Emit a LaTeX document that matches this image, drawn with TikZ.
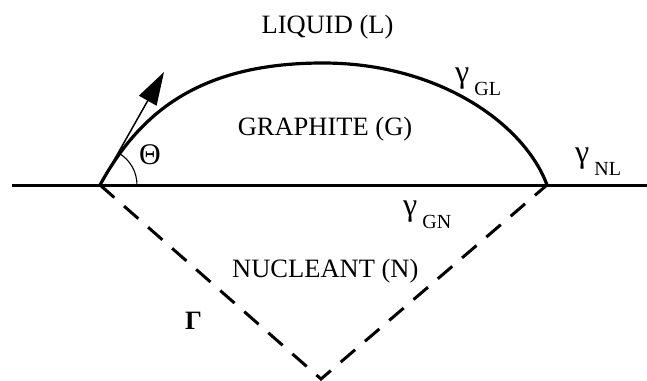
\documentclass[tikz,border=0pt]{standalone}
\usepackage{fontspec}
\setmainfont{Liberation Serif}
\usetikzlibrary{arrows.meta}
\tikzset{
  lbl/.style={inner sep=0pt, anchor=base, font=\fontsize{26.5}{26.5}\selectfont},
  gam/.style={inner sep=0pt, anchor=base west, font=\fontsize{32}{32}\selectfont},
  surface/.style={line width=3pt},
  capline/.style={line width=3.2pt},
  radiusline/.style={line width=3pt, dash pattern=on 19pt off 13pt},
  tangent/.style={line width=1.5pt, -{Triangle[length=33pt,width=20pt]}},
  anglearc/.style={line width=1.1pt}
}
\newcommand{\subtxt}[1]{\hspace{5pt}\raisebox{-13pt}{\fontsize{20}{20}\selectfont #1}}
\begin{document}
\begin{tikzpicture}[x=1pt,y=-1pt]
\useasboundingbox (0,0) rectangle (647,380);
\coordinate (L0) at (12,185);
\coordinate (R0) at (647,185);
\coordinate (A) at (100,185);
\coordinate (B) at (547,185);
\coordinate (Top) at (323,63);
\coordinate (T) at (164,72);
\coordinate (V) at (321,379);
% surface
\draw[surface] (L0) -- (R0);
% graphite cap
\draw[capline] (A) .. controls (140,112) and (200,63) .. (Top)
               .. controls (440,63) and (525,125) .. (B);
% nucleant radii
\draw[radiusline] (A) -- (V) -- (B);
% tangent arrow
\draw[tangent] (A) -- (T);
% angle
\draw[anglearc] ([xshift=37pt]A) arc[start angle=0, end angle=60, radius=37pt];
% labels
\node[lbl] (liq) at (327.5,33) {LIQUID (L)};
\node[lbl] (gra) at (325,135) {GRAPHITE (G)};
\node[lbl, anchor=base west] (nuc) at (232,277) {NUCLEANT (N)};
\node[inner sep=0pt, font=\fontsize{30}{30}\selectfont] (theta) at (150,155) {Θ};
\node[lbl, anchor=base west, font=\fontsize{26.5}{26.5}\selectfont\bfseries] (rr) at (185,329) {Γ};
\node[gam] (gGL) at (455,82) {γ\subtxt{GL}};
\node[gam] (gNL) at (575,162) {γ\subtxt{NL}};
\node[gam] (gGN) at (403,215) {γ\subtxt{GN}};
\end{tikzpicture}
\end{document}
